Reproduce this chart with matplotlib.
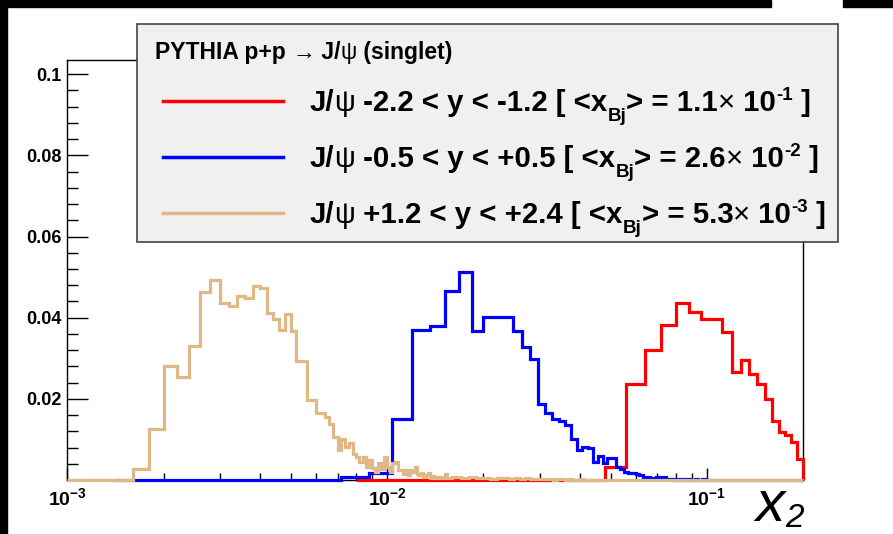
import matplotlib
matplotlib.use("Agg")
import matplotlib.pyplot as plt
import matplotlib.patches as mpatches
import numpy as np

plt.rcParams['font.family'] = ['Liberation Sans', 'DejaVu Sans']
plt.rcParams['mathtext.fontset'] = 'custom'
plt.rcParams['mathtext.rm'] = 'Liberation Sans'
plt.rcParams['mathtext.bf'] = 'Liberation Sans:bold'
plt.rcParams['mathtext.it'] = 'Liberation Sans:italic'
plt.rcParams['mathtext.sf'] = 'Liberation Sans'

W, H = 893, 534

# --- histogram data ---
# forward rapidity (tan): fine bins of 0.0002 from 0.001, then a coarse tail
tan_lo = 0.001
tan_w = 0.0002
tan_fine = [0, 0, 0, 0.0027, 0.0125, 0.0280, 0.0255, 0.0331, 0.0464, 0.0493,
            0.0436, 0.0429, 0.0454, 0.0448, 0.0478, 0.0473, 0.0411, 0.0397, 0.0370, 0.0409,
            0.0366, 0.0294, 0.0294, 0.0196, 0.0196, 0.0164, 0.0164, 0.0155, 0.0139, 0.0106,
            0.0074, 0.0102, 0.0082, 0.0090, 0.0065, 0.0057, 0.0045, 0.0057, 0.0033, 0.0049,
            0.0030, 0.0020, 0.0041, 0.0028, 0.0057, 0.0033, 0.0020, 0.0041, 0.0045, 0.0025,
            0.0025, 0.0016, 0.0025, 0.0012, 0.0025, 0.0020, 0.0033, 0.0016, 0.0012, 0.0017,
            0.0008, 0.0012, 0.0017, 0.0006, 0.0010, 0.0005, 0.0008, 0.0004, 0.0007, 0.0005,
            0.0004, 0.0016, 0.0005, 0.0004, 0.0006]
tan_tail_w = 0.001
tan_tail = [0.0008, 0.0005, 0.0007, 0.0004, 0.0006, 0.0003, 0.0005, 0.0004, 0.0003, 0.0005,
            0.0002, 0.0004, 0.0003, 0.0002, 0.0003, 0.0002, 0.0003, 0.0001, 0.0002, 0.0002,
            0.0001, 0.0002, 0.0001, 0.0001, 0.0002]

# mid rapidity (blue): bins of 0.0016 from 0.0024
blue_first = 0.0014
blue_lo = 0.0024
blue_w = 0.0016
blue_vals = [0, 0, 0, 0.0008, 0.0018, 0.0151, 0.0370, 0.0380, 0.0466,
             0.0513, 0.0368, 0.0401, 0.0401, 0.0402, 0.0368, 0.0327, 0.0299, 0.0188, 0.0164,
             0.0151, 0.0146, 0.0135, 0.0102, 0.0074, 0.0082, 0.0078, 0.0045, 0.0059, 0.0041,
             0.0053, 0.0053, 0.0033, 0.0028, 0.0020, 0.0018, 0.0018, 0.0015, 0.0013, 0.0008,
             0.0008, 0.0005, 0.0005, 0.0008, 0.0006, 0.0008, 0.0003, 0.0003, 0.0002, 0.0001,
             0.0003, 0.0001, 0.0002, 0.0001, 0.0002, 0.0001, 0.0001, 0.0002, 0.0001, 0.0001,
             0.0003, 0.0001, 0.0001]

# backward rapidity (red): bins of 0.008 from 0.008
red_lo = 0.008
red_w = 0.008
red_vals = [0, 0, 0, 0, 0, 0.0033, 0.0237, 0.0321, 0.0383, 0.0436,
            0.0413, 0.0397, 0.0397, 0.0364, 0.0266, 0.0296, 0.0262, 0.0237, 0.0200, 0.0146,
            0.0119, 0.0110, 0.0094, 0.0051]

x_min, x_max = 1e-3, 0.2
y_max = 0.1035
y_major = [0.02, 0.04, 0.06, 0.08, 0.1]
y_labels = ["0.02", "0.04", "0.06", "0.08", "0.1"]
x_major = [1e-3, 1e-2, 1e-1]
x_labels = [r"$\mathbf{10^{-3}}$", r"$\mathbf{10^{-2}}$", r"$\mathbf{10^{-1}}$"]

header = ["PYTHIA p+p ", "\u2192", " J/", "\u03c8", " (singlet)"]
rap_ranges = ["-2.2 < y < -1.2", "-0.5 < y < +0.5", "+1.2 < y < +2.4"]
xbj_mant = ["1.1", "2.6", "5.3"]
xbj_exp = ["-1", "-2", "-3"]
colors = ["#ff0000", "#0000ff", "#dfb886"]


def fx(x):
    return x / W


def fy(y):
    return 1 - y / H


fig = plt.figure(figsize=(W / 100, H / 100), dpi=100)
renderer = fig.canvas.get_renderer()

# black frame strips from the original canvas
fig.patches.append(mpatches.Rectangle((0, fy(7)), fx(771), 7 / H, color="black",
                                      transform=fig.transFigure, figure=fig))
fig.patches.append(mpatches.Rectangle((fx(843), fy(7)), fx(50), 7 / H, color="black",
                                      transform=fig.transFigure, figure=fig))
fig.patches.append(mpatches.Rectangle((0, 0), fx(7), 1, color="black",
                                      transform=fig.transFigure, figure=fig))

ax = fig.add_axes([fx(67.3), fy(480), fx(803 - 67.3), (480 - 60) / H])

tan_edges = np.concatenate([tan_lo + tan_w * np.arange(len(tan_fine) + 1),
                            tan_lo + tan_w * len(tan_fine) + tan_tail_w * np.arange(1, len(tan_tail) + 1),
                            [x_max]])
tan_all = tan_fine + tan_tail + [0]
blue_edges = np.concatenate([[blue_first], blue_lo + blue_w * np.arange(len(blue_vals) + 1), [x_max]])
blue_all = [0] + blue_vals + [0.0001]
red_edges = red_lo + red_w * np.arange(len(red_vals) + 1)

lw = 2.3
ax.stairs(red_vals, red_edges, color=colors[0], lw=lw, clip_on=False, zorder=3)
ax.stairs(blue_all, blue_edges, color=colors[1], lw=lw, clip_on=False, zorder=4)
ax.stairs(tan_all, tan_edges, color=colors[2], lw=lw, clip_on=False, zorder=5)

ax.set_xscale("log")
ax.set_xlim(x_min, x_max)
ax.set_ylim(0, y_max)

ax.set_yticks(y_major)
ax.set_yticklabels(y_labels, fontsize=13, fontweight="bold")
ax.set_yticks(np.arange(0.004, 0.1001, 0.004), minor=True)
ax.set_xticks(x_major)
ax.set_xticklabels(x_labels, fontsize=14)
ax.tick_params(axis="y", which="major", direction="in", length=15, width=1, pad=4)
ax.tick_params(axis="y", which="minor", direction="in", length=8, width=1)
ax.tick_params(axis="x", which="major", direction="in", length=9, width=1, pad=5)
ax.tick_params(axis="x", which="minor", direction="in", length=5, width=1)
for s in ax.spines.values():
    s.set_linewidth(1)
    s.set_zorder(2)

# axis title x_2
fig.text(fx(755), fy(521), "x", fontsize=42, style="italic", ha="left", va="baseline")
fig.text(fx(785), fy(527), "2", fontsize=24, style="italic", ha="left", va="baseline")

# legend box
fig.patches.append(mpatches.Rectangle((fx(137), fy(242)), fx(838 - 137), (242 - 24) / H,
                                      facecolor="#f0f0f0", edgecolor="#444444", lw=1.2,
                                      transform=fig.transFigure, figure=fig, zorder=10))


def pieces_text(x0, base, pieces):
    # lay out text pieces one after another along a baseline (pixel coords)
    x = x0
    for s, size, dy, weight in pieces:
        t = fig.text(fx(x), fy(base + dy), s, fontsize=size, fontweight=weight,
                     ha="left", va="baseline", zorder=11)
        x = t.get_window_extent(renderer).x1


hsize = 16.5
weights = ["bold", "normal", "bold", "normal", "bold"]
pieces_text(155, 59, [(s, hsize, 0, w) for s, w in zip(header, weights)])

big, small = 21.2, 13.5
row_y = [101, 157, 213]
for i, yy in enumerate(row_y):
    fig.lines.append(plt.Line2D([fx(163), fx(283)], [fy(yy), fy(yy)], color=colors[i], lw=2.5,
                                transform=fig.transFigure, figure=fig, zorder=11))
    base = yy + 10
    pieces_text(310, base, [
        ("J/", big, 0, "bold"), ("\u03c8", big, 0, "normal"),
        (" " + rap_ranges[i] + " [ <x", big, 0, "bold"),
        ("Bj", small, 10, "bold"),
        ("> = " + xbj_mant[i], big, 0, "bold"),
        ("\u00d7", big, 0, "normal"),
        (" 10", big, 0, "bold"),
        (xbj_exp[i], small, -11, "bold"),
        (" ]", big, 0, "bold"),
    ])

fig.savefig("out.png", dpi=100)
